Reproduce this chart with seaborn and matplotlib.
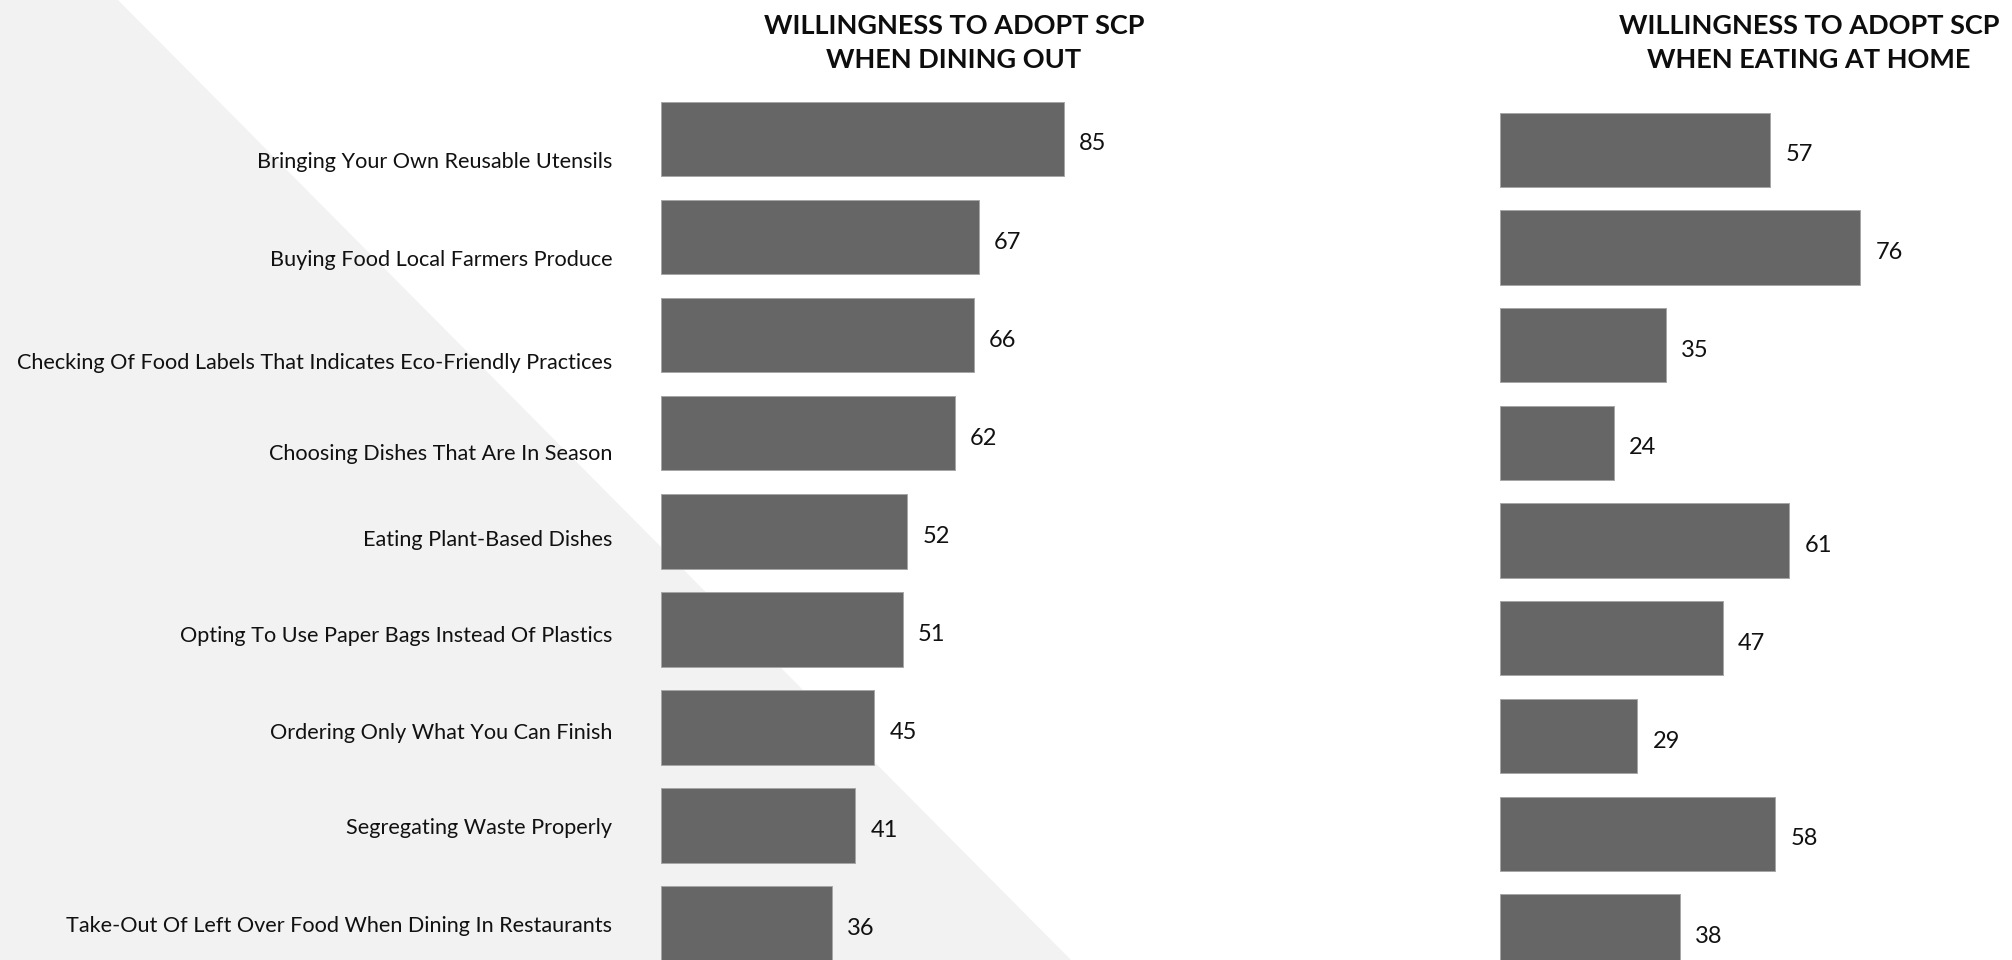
import numpy as np
import pandas as pd
import matplotlib
matplotlib.use("Agg")
import matplotlib.pyplot as plt
from matplotlib.patches import Polygon
import seaborn as sns

# Survey categories (shared by both panels)
practices = [
    "Bringing Your Own Reusable Utensils",
    "Buying Food Local Farmers Produce",
    "Checking Of Food Labels That Indicates Eco-Friendly Practices",
    "Choosing Dishes That Are In Season",
    "Eating Plant-Based Dishes",
    "Opting To Use Paper Bags Instead Of Plastics",
    "Ordering Only What You Can Finish",
    "Segregating Waste Properly",
    "Take-Out Of Left Over Food When Dining In Restaurants",
]
dining_out = [85, 67, 66, 62, 52, 51, 45, 41, 36]
eating_home = [57, 76, 35, 24, 61, 47, 29, 58, 38]

title_out = "WILLINGNESS TO ADOPT SCP\nWHEN DINING OUT"
title_home = "WILLINGNESS TO ADOPT SCP\nWHEN EATING AT HOME"

df_out = pd.DataFrame({"practice": practices, "value": dining_out})
df_home = pd.DataFrame({"practice": practices, "value": eating_home})

sns.set_theme(style="white")
plt.rcParams["font.family"] = ["Lato", "DejaVu Sans"]

W, H = 2012, 960
DPI = 100
fig = plt.figure(figsize=(W / DPI, H / DPI), dpi=DPI)
fig.patch.set_facecolor("white")

BAR = "#666666"
EDGE = "#a6a6a6"

# light grey diagonal band behind the left panel
band = Polygon([(0, 1), (118 / W, 1), (1071 / W, 0), (0, 0)],
               closed=True, transform=fig.transFigure,
               facecolor="#f2f2f2", edgecolor="none", zorder=-5)
fig.patches.append(band)

# small vertical nudges of the category labels (in bar-slot units)
label_nudge = [0.22, 0.215, 0.26, 0.19, 0.065, 0.045, 0.04, 0.0, 0.0]


def panel(rect, data):
    ax = fig.add_axes(rect)
    sns.barplot(data=data, x="value", y="practice", orient="h",
                color=BAR, width=0.76, saturation=1, ax=ax,
                edgecolor=EDGE, linewidth=0.7)
    ax.set_xlim(0, 100)
    ax.set_ylim(8.5, -0.5)
    ax.set_xlabel("")
    ax.set_ylabel("")
    ax.set_xticks([])
    ax.patch.set_alpha(0)
    for s in ax.spines.values():
        s.set_visible(False)
    labels = ax.bar_label(ax.containers[0], padding=11, fontsize=17,
                          color="#111111")
    # sit the value labels slightly below the bar centre line
    for t in labels:
        dx, dy = t.xyann
        t.xyann = (dx, dy - 3.6)
    return ax


ax_l = panel([661 / W, -0.0133, 474 / W, 0.9197], df_out)
ax_l.set_yticks(np.arange(len(practices)) + np.array(label_nudge))
ax_l.set_yticklabels(practices, fontsize=15.6, color="#111111")
ax_l.tick_params(axis="y", length=0, pad=35)

ax_r = panel([1500 / W, -0.0211, 474 / W, 0.9159], df_home)
ax_r.set_yticks([])

fig.text(954 / W, 1 - 43 / H, title_out, ha="center", va="center",
         fontsize=19.5, fontweight="bold", color="#0d0d0d", linespacing=1.5)
fig.text(1809 / W, 1 - 43 / H, title_home, ha="center", va="center",
         fontsize=19.5, fontweight="bold", color="#0d0d0d", linespacing=1.5)

fig.savefig("out.png", dpi=DPI, facecolor=fig.get_facecolor())
